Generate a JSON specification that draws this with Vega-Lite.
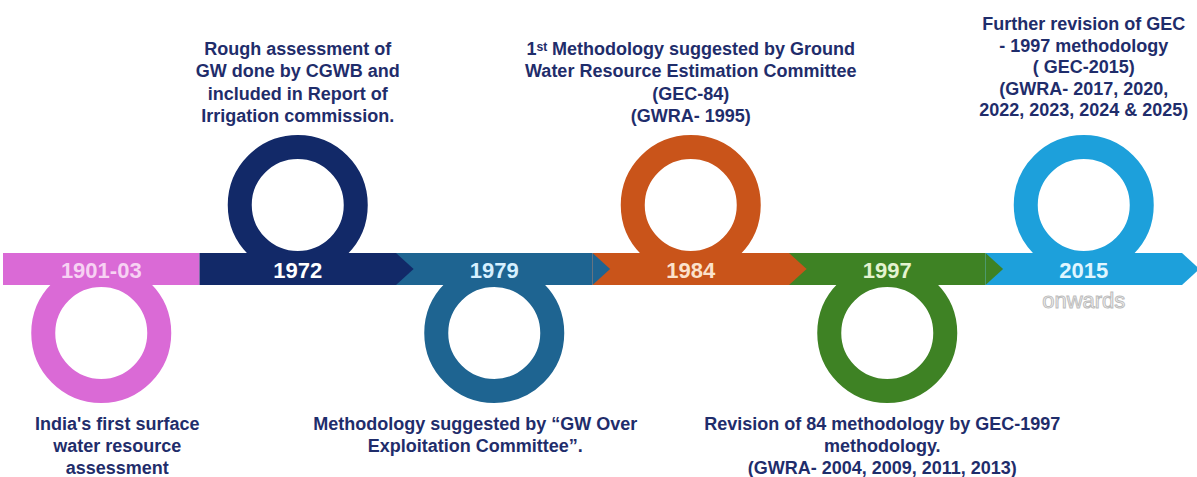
{
  "$schema": "https://vega.github.io/schema/vega-lite/v6.json",
  "width": 1197,
  "height": 477,
  "autosize": {"type": "none"},
  "padding": 0,
  "background": "white",
  "config": {"view": {"stroke": null}, "font": "Liberation Sans"},
  "data": {
    "values": [
      {"period": "1901-03", "side": -1, "desc": "India's first surface\nwater resource\nassessment"},
      {"period": "1972", "side": 1, "desc": "Rough assessment of\nGW done by CGWB and\nincluded in Report of\nIrrigation commission."},
      {"period": "1979", "side": -1, "desc": "Methodology suggested by “GW Over\nExploitation Committee”."},
      {"period": "1984", "side": 1, "desc": "1ˢᵗ Methodology suggested by Ground\nWater Resource Estimation Committee\n(GEC-84)\n(GWRA- 1995)"},
      {"period": "1997", "side": -1, "desc": "Revision of 84 methodology by GEC-1997\nmethodology.\n(GWRA- 2004, 2009, 2011, 2013)"},
      {"period": "2015", "side": 1, "desc": "Further revision of GEC\n- 1997 methodology\n( GEC-2015)\n(GWRA- 2017, 2020,\n2022, 2023, 2024 & 2025)", "note": "onwards"}
    ]
  },
  "encoding": {
    "x": {
      "field": "period",
      "type": "nominal",
      "axis": null,
      "scale": {
        "type": "band",
        "domain": ["1901-03", "1972", "1979", "1984", "1997", "2015"],
        "range": [3, 1182],
        "paddingInner": 0,
        "paddingOuter": 0
      }
    }
  },
  "layer": [
    {
      "mark": {"type": "point", "shape": "circle", "filled": false, "strokeWidth": 24, "size": 13456, "opacity": 1},
      "encoding": {
        "y": {"field": "side", "type": "quantitative", "axis": null, "scale": {"domain": [-1, 1], "range": [333, 205]}},
        "color": {
          "field": "period", "type": "nominal", "legend": null,
          "scale": {"domain": ["1901-03", "1972", "1979", "1984", "1997", "2015"], "range": ["#da6ad6", "#122968", "#1e6491", "#c9541a", "#3e8224", "#1da0db"]}
        }
      }
    },
    {
      "mark": {"type": "bar"},
      "encoding": {
        "y": {"datum": 0.25, "type": "quantitative", "axis": null, "scale": {"domain": [-1, 1], "range": [333, 205]}},
        "y2": {"datum": -0.25},
        "color": {"field": "period", "type": "nominal", "legend": null}
      }
    },
    {
      "transform": [{"filter": "datum.period !== '1901-03'"}],
      "mark": {"type": "point", "shape": "M0,-1L1.1,0L0,1Z", "filled": true, "size": 1024, "opacity": 1, "strokeWidth": 0},
      "encoding": {
        "x": {"field": "period", "type": "nominal", "bandPosition": 1},
        "y": {"datum": 0, "type": "quantitative", "axis": null, "scale": {"domain": [-1, 1], "range": [333, 205]}},
        "color": {"field": "period", "type": "nominal", "legend": null}
      }
    },
    {
      "mark": {"type": "text", "fontSize": 22, "fontWeight": "bold", "baseline": "middle", "align": "center", "dy": 2},
      "encoding": {
        "y": {"datum": 0, "type": "quantitative", "axis": null, "scale": {"domain": [-1, 1], "range": [333, 205]}},
        "text": {"field": "period"},
        "fill": {
          "field": "period", "type": "nominal", "legend": null,
          "scale": {"domain": ["1901-03", "1972", "1979", "1984", "1997", "2015"], "range": ["#f7d2f3", "#ffffff", "#d6f0ff", "#fbe2cc", "#e4f3d0", "#e0f6ff"]}
        }
      }
    },
    {
      "transform": [{"filter": "isValid(datum.note)"}],
      "mark": {"type": "text", "fontSize": 22, "fontWeight": "normal", "baseline": "middle", "align": "center", "fill": "#f4f4f4", "stroke": "#bdbdbd", "strokeWidth": 1},
      "encoding": {
        "y": {"datum": -0.5, "type": "quantitative", "axis": null, "scale": {"domain": [-1, 1], "range": [333, 205]}},
        "text": {"field": "note"}
      }
    },
    {
      "transform": [{"filter": "datum.side > 0 && datum.period !== '2015'"}],
      "mark": {"type": "text", "fontSize": 18, "fontWeight": "bold", "baseline": "alphabetic", "align": "center", "lineBreak": "\n", "lineHeight": 22.3, "dy": -150, "fill": "#1f2d6b"},
      "encoding": {
        "y": {"field": "side", "type": "quantitative", "axis": null, "scale": {"domain": [-1, 1], "range": [333, 205]}},
        "text": {"field": "desc"}
      }
    },
    {
      "transform": [{"filter": "datum.period === '2015'"}],
      "mark": {"type": "text", "fontSize": 18, "fontWeight": "bold", "baseline": "alphabetic", "align": "center", "lineBreak": "\n", "lineHeight": 21.5, "dy": -175, "fill": "#1f2d6b"},
      "encoding": {
        "y": {"field": "side", "type": "quantitative", "axis": null, "scale": {"domain": [-1, 1], "range": [333, 205]}},
        "text": {"field": "desc"}
      }
    },
    {
      "transform": [{"filter": "datum.period === '1901-03'"}],
      "mark": {"type": "text", "fontSize": 18, "fontWeight": "bold", "baseline": "top", "align": "center", "lineBreak": "\n", "lineHeight": 22, "dy": 83, "dx": 16, "fill": "#1f2d6b"},
      "encoding": {
        "y": {"field": "side", "type": "quantitative", "axis": null, "scale": {"domain": [-1, 1], "range": [333, 205]}},
        "text": {"field": "desc"}
      }
    },
    {
      "transform": [{"filter": "datum.period === '1979'"}],
      "mark": {"type": "text", "fontSize": 18, "fontWeight": "bold", "baseline": "top", "align": "center", "lineBreak": "\n", "lineHeight": 22, "dy": 83, "dx": -19, "fill": "#1f2d6b"},
      "encoding": {
        "y": {"field": "side", "type": "quantitative", "axis": null, "scale": {"domain": [-1, 1], "range": [333, 205]}},
        "text": {"field": "desc"}
      }
    },
    {
      "transform": [{"filter": "datum.period === '1997'"}],
      "mark": {"type": "text", "fontSize": 18, "fontWeight": "bold", "baseline": "top", "align": "center", "lineBreak": "\n", "lineHeight": 22, "dy": 83, "dx": -5, "fill": "#1f2d6b"},
      "encoding": {
        "y": {"field": "side", "type": "quantitative", "axis": null, "scale": {"domain": [-1, 1], "range": [333, 205]}},
        "text": {"field": "desc"}
      }
    }
  ]
}
